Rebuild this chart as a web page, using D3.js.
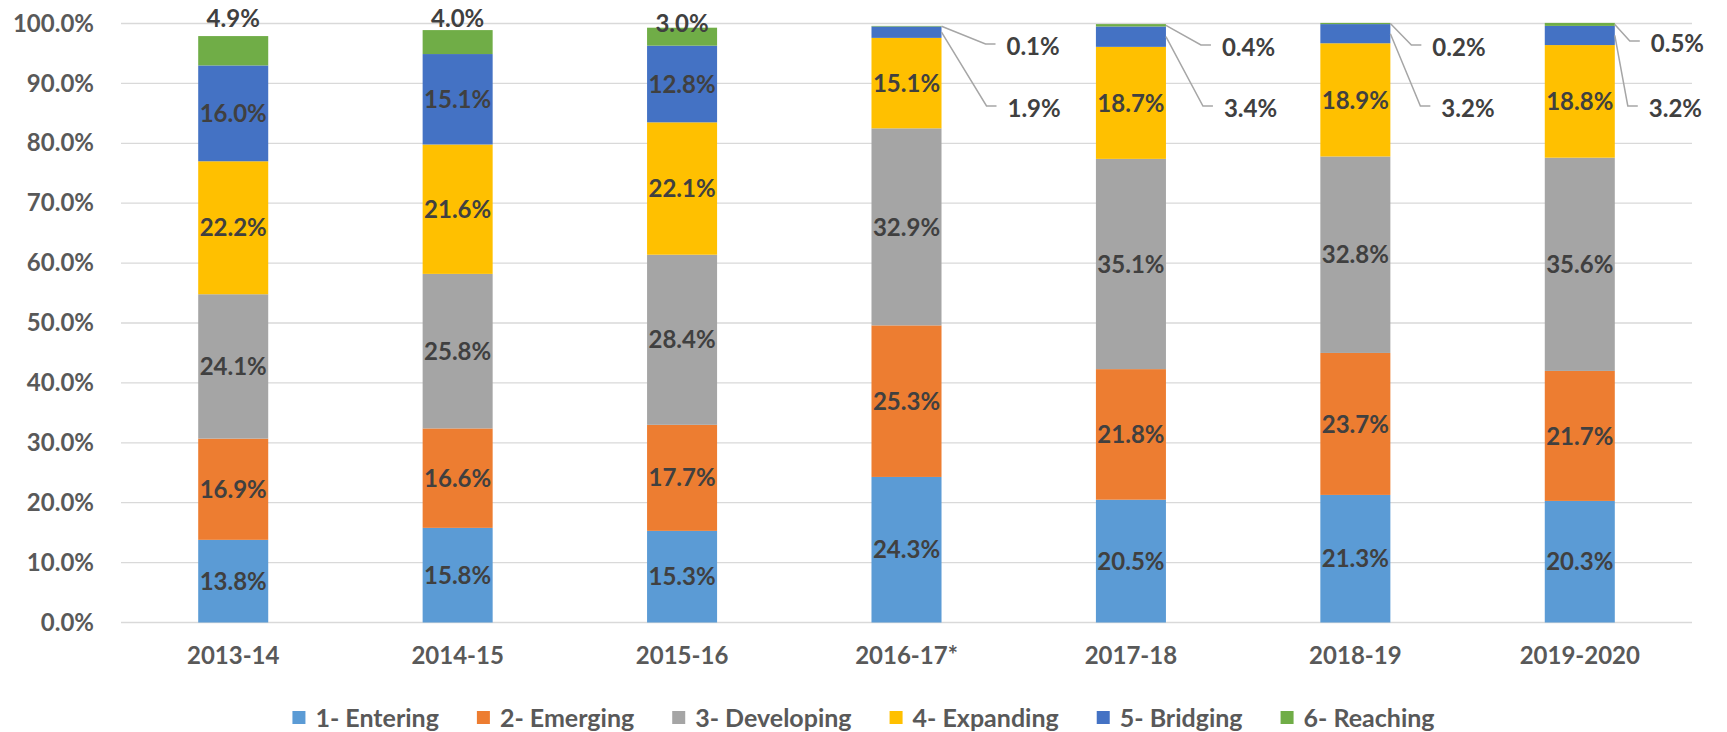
<!DOCTYPE html>
<html><head><meta charset="utf-8">
<script src="https://cdn.jsdelivr.net/npm/d3@7"></script>
<style>
html,body{margin:0;padding:0;background:#fff;}
svg text{font-family:Lato,"Open Sans",sans-serif;font-weight:700;}
</style></head>
<body><svg id="c" width="1727" height="732"></svg>
<script>
const categories = ["2013-14","2014-15","2015-16","2016-17*","2017-18","2018-19","2019-2020"];
const seriesNames = ["1- Entering","2- Emerging","3- Developing","4- Expanding","5- Bridging","6- Reaching"];
const entering   = [13.8,15.8,15.3,24.3,20.5,21.3,20.3];
const emerging   = [16.9,16.6,17.7,25.3,21.8,23.7,21.7];
const developing = [24.1,25.8,28.4,32.9,35.1,32.8,35.6];
const expanding  = [22.2,21.6,22.1,15.1,18.7,18.9,18.8];
const bridging   = [16.0,15.1,12.8,1.9,3.4,3.2,3.2];
const reaching   = [4.9,4.0,3.0,0.1,0.4,0.2,0.5];
const yTicks = [0,10,20,30,40,50,60,70,80,90,100];
const colors = ["#5B9BD5","#ED7D31","#A5A5A5","#FFC000","#4472C4","#70AD47"];

// label layout (positions only, not data)
const topLabelY = [18,18,23];               // "6- Reaching" labels above the first three bars
const calloutBars = [3,4,5,6];              // bars whose small segments are labelled outside
const calloutReaching = [{dx:54,y:44},{dx:45,y:45},{dx:31,y:45},{dx:25,y:41}];
const calloutBridging = [{dx:55,y:106},{dx:47,y:106},{dx:40,y:106},{dx:23,y:106}];

const seriesVals = [entering,emerging,developing,expanding,bridging,reaching];
const rows = categories.map((c,i)=>{const o={cat:c}; seriesNames.forEach((s,k)=>o[s]=seriesVals[k][i]); return o;});
const stacked = d3.stack().keys(seriesNames)(rows);

const svg = d3.select("#c");
const pLeft=121, pRight=1692, pTop=23.5, pBottom=622.5;
const x = d3.scaleBand().domain(categories).range([pLeft,pRight]).paddingInner(0.688).paddingOuter(0.344);
const y = d3.scaleLinear().domain([0,100]).range([pBottom,pTop]);

// gridlines
svg.append("g").selectAll("line").data(yTicks).join("line")
  .attr("x1",pLeft).attr("x2",pRight).attr("y1",d=>y(d)).attr("y2",d=>y(d))
  .attr("stroke","#d9d9d9").attr("stroke-width",1.3);

// y axis labels
const yAxis = d3.axisLeft(y).tickValues(yTicks).tickFormat(d=>d3.format(".1f")(d)+"%").tickSize(0).tickPadding(0);
const ga = svg.append("g").attr("transform","translate(94,0)").call(yAxis);
ga.select(".domain").remove();
ga.selectAll("text").attr("font-size",24).attr("fill","#595959").attr("font-family","Lato").attr("font-weight",700);

// bars
const layers = svg.append("g").selectAll("g").data(stacked).join("g").attr("fill",(d,i)=>colors[i]);
layers.selectAll("rect").data(d=>d).join("rect")
  .attr("x",d=>x(d.data.cat)).attr("width",x.bandwidth())
  .attr("y",d=>y(d[1])).attr("height",d=>y(d[0])-y(d[1]));

// x labels
const xAxis = d3.axisBottom(x).tickSize(0).tickPadding(0);
const gx = svg.append("g").attr("transform","translate(0,"+(pBottom+25)+")").call(xAxis);
gx.select(".domain").remove();
gx.selectAll("text").attr("font-size",24).attr("fill","#595959").attr("font-family","Lato").attr("font-weight",700).attr("dy","0.7em");

// data labels
const fmt = d=>d3.format(".1f")(d)+"%";
const lab = svg.append("g").attr("font-size",24).attr("fill","#404040");
stacked.forEach((layer,k)=>{
  layer.forEach((d,i)=>{
    const v = seriesVals[k][i];
    const cx = x(d.data.cat)+x.bandwidth()/2;
    if(calloutBars.includes(i) && k>=4) return;
    const cy = (k===5) ? topLabelY[i] : (y(d[0])+y(d[1]))/2;
    lab.append("text").attr("x",cx).attr("y",cy).attr("text-anchor","middle").attr("dy","0.36em").text(fmt(v));
  });
});

// callouts
const lines = svg.append("g").attr("fill","none").attr("stroke","#a6a6a6").attr("stroke-width",1.5);
calloutBars.forEach((i,j)=>{
  [[5,calloutReaching[j]],[4,calloutBridging[j]]].forEach(([k,c])=>{
    const d = stacked[k][i];
    const bx = x(categories[i])+x.bandwidth();
    const by = (y(d[0])+y(d[1]))/2;
    const ex = bx + c.dx;
    lines.append("path").attr("d",`M${bx},${by}L${ex-10},${c.y}L${ex},${c.y}`);
    lab.append("text").attr("x",ex+11).attr("y",c.y+2).attr("dy","0.36em").text(fmt(seriesVals[k][i]));
  });
});

// legend (centred on the page)
const lg = svg.append("g");
let lx=0;
seriesNames.forEach((s,k)=>{
  const g = lg.append("g").attr("transform",`translate(${lx},0)`);
  g.append("rect").attr("x",0).attr("y",-6.5).attr("width",13).attr("height",13).attr("fill",colors[k]);
  const t = g.append("text").attr("x",23).attr("y",0).attr("dy","0.36em").attr("font-size",25).attr("fill","#595959").text(s);
  const w = 23 + t.node().getComputedTextLength();
  lx += w + (k<seriesNames.length-1 ? 38 : 0);
});
lg.attr("transform",`translate(${863.5 - lx/2},717.5)`);
</script></body></html>
